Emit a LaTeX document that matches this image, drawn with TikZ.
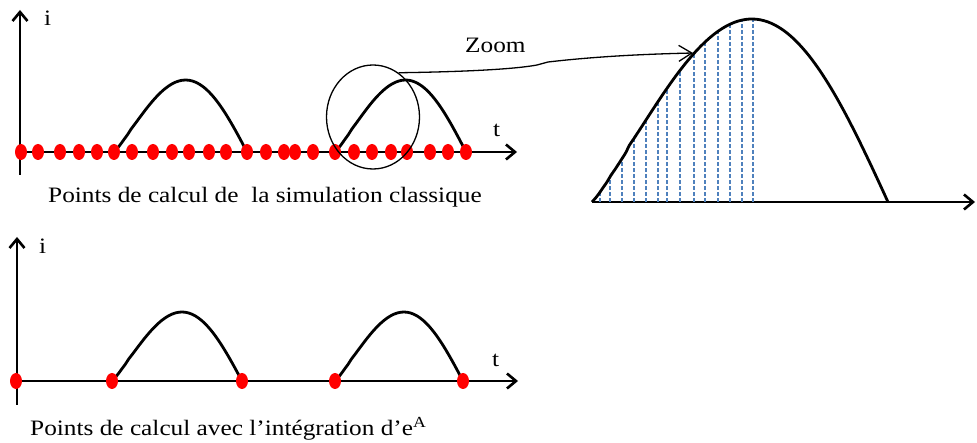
\documentclass[tikz,border=0pt]{standalone}
\usepackage{fontspec}
\setmainfont{Liberation Serif}[FakeStretch=1.15]
\usetikzlibrary{arrows.meta,shapes.geometric}
\definecolor{pasbleu}{HTML}{4F81BD}
\tikzset{
	axe/.style={line width=2.6bp,->},
	courbe/.style={line width=2.8bp,smooth,samples=40},
	pt/.style={ellipse,fill=red,inner sep=0pt,minimum width=12bp,minimum height=16bp},
	pas/.style={pasbleu,line width=1.1bp,dash pattern=on 4bp off 2bp},
	lbl/.style={font=\fontsize{22bp}{24bp}\selectfont,inner sep=0pt,anchor=base west}
}
\begin{document}
\begin{tikzpicture}[x=1bp,y=-1bp,line join=round,>={Straight Barb[length=9bp,width=15bp]}]
			\useasboundingbox (0,0) rectangle (977,443);
			% simulation classique
			\draw[axe] (20,175)--(20,10);
			\draw[axe] (20,152)--(517,152);
			\node[lbl] (i1) at (44,26) {i};
			\node[lbl] (t1) at (493,137) {t};
			\foreach \a/\b in {114/247, 335/466}
			\draw[courbe,domain=0:1,variable=\s] plot ({\a+\s*(\b-\a)},{152-72*sin(180*\s^1.12)});
			\foreach \x [count=\k] in {21,38,60,79,97,114,132,153,172,189,209,226,247,266,284,295,313,335,354,372,391,407,430,448,466}
			\node[pt] (p\k) at (\x,152) {};
			\node[lbl] (leg1) at (48,203) {Points de calcul de\ \ la simulation classique};
			% loupe
			\node[draw,ellipse,line width=1.3bp,minimum width=93bp,minimum height=104bp] (loupe) at (373,117) {};
			\node[lbl] (zoom) at (465,53) {Zoom};
			\coordinate (cible) at (693,53);
			\draw[->,line width=1.3bp,>={Straight Barb[length=13bp,width=16bp]}] (loupe.60) .. controls (450,72) and (510,70) .. (537,65) -- (548,62) .. controls (600,56) and (650,54) .. (cible);
			% agrandissement
			\draw[axe] (592,202)--(975,202);
			\foreach \x in {600,610,622,634,646,658,667,680,694,705,718,730,742,753}
			\draw[pas] (\x,202)--(\x,{202-183*sin(180*((\x-592)/296)^1.125)});
			\draw[courbe,samples=80,domain=0:1,variable=\s] plot ({592+\s*296},{202-183*sin(180*\s^1.125)});
			% integration d'e^A
			\draw[axe] (17,405)--(17,237);
			\draw[axe] (17,381)--(518,381);
			\node[lbl] (i2) at (39,254) {i};
			\node[lbl] (t2) at (492,367) {t};
			\foreach \a/\b in {112/242, 335/463}
			\draw[courbe,domain=0:1,variable=\s] plot ({\a+\s*(\b-\a)},{381-69*sin(180*\s^1.12)});
			\foreach \x [count=\k] in {16,112,242,335,463}
			\node[pt] (q\k) at (\x,381) {};
			\node[lbl] (leg2) at (30,435) {Points de calcul avec l’intégration d’e\textsuperscript{A}};
\end{tikzpicture}
\end{document}
